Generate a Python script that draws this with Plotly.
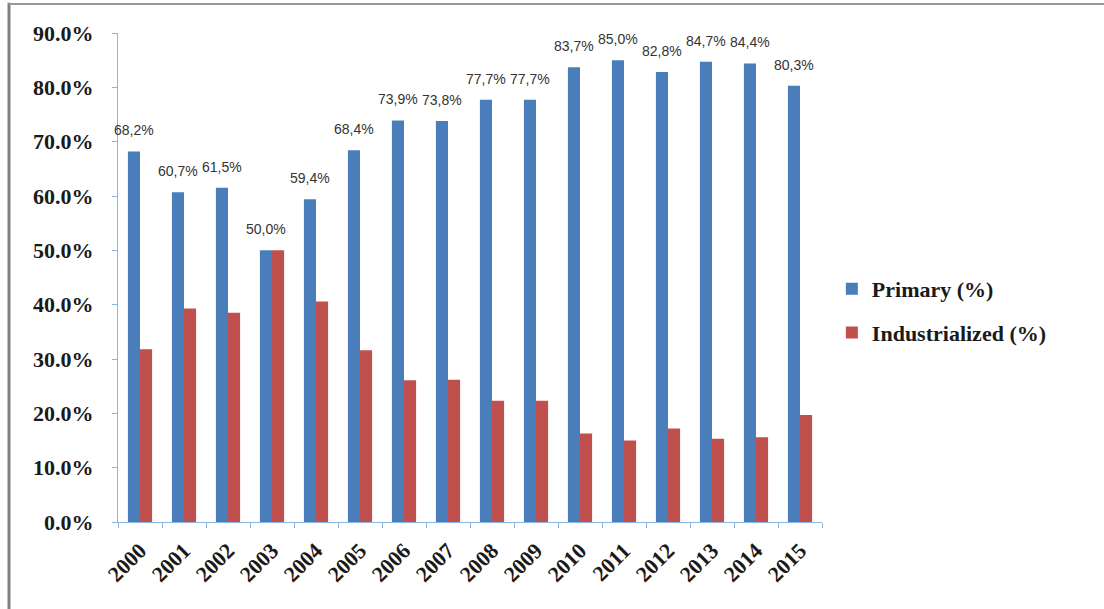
import plotly.graph_objects as go

years = [str(y) for y in range(2000, 2016)]
primary = [68.2, 60.7, 61.5, 50.0, 59.4, 68.4, 73.9, 73.8, 77.7, 77.7, 83.7, 85.0, 82.8, 84.7, 84.4, 80.3]
industrialized = [31.8, 39.3, 38.5, 50.0, 40.6, 31.6, 26.1, 26.2, 22.3, 22.3, 16.3, 15.0, 17.2, 15.3, 15.6, 19.7]
y_ticks = [0, 10, 20, 30, 40, 50, 60, 70, 80, 90]
y_tick_text = [f"{v:.1f}%" for v in y_ticks]
primary_labels = [f"{v:.1f}%".replace(".", ",") for v in primary]

serif_bold = dict(family="Liberation Serif", size=22, color="#1a1a1a", weight="bold")

fig = go.Figure()
fig.add_trace(go.Bar(
    x=years, y=primary, name="Primary (%)", legendgroup="p",
    marker=dict(color="#4a7ebb", line=dict(width=0)),
))
fig.add_trace(go.Bar(
    x=years, y=industrialized, name="Industrialized (%)", legendgroup="i",
    marker=dict(color="#c0504d", line=dict(width=0)),
))

# data labels above the primary bars (category index on the category axis)
for idx, (val, lab) in enumerate(zip(primary, primary_labels)):
    fig.add_annotation(
        x=idx, y=val, text=lab, showarrow=False,
        xanchor="center", yanchor="bottom", xshift=-6, yshift=11,
        font=dict(family="Liberation Sans", size=14, color="#333333"),
    )

fig.update_layout(
    width=1104, height=609,
    margin=dict(l=118, r=282, t=33, b=87),
    paper_bgcolor="white", plot_bgcolor="white",
    barmode="group", bargap=0.45, bargroupgap=0,
    showlegend=True,
    legend=dict(x=1.014, y=0.4315, xanchor="left", yanchor="middle",
                font=serif_bold, tracegroupgap=12, itemwidth=30),
)
fig.update_xaxes(
    type="category", range=[-0.5, len(years) - 0.5], tickangle=-45, tickfont=serif_bold,
    showline=True, linecolor="#8eb4e3", linewidth=1,
    ticks="outside", ticklen=5, tickcolor="#8eb4e3", tickson="boundaries",
    showgrid=False, ticklabelstandoff=6,
)
fig.update_yaxes(
    range=[0, 90], tickvals=y_ticks, ticktext=y_tick_text, tickfont=serif_bold,
    showline=True, linecolor="#8eb4e3", linewidth=1,
    ticks="outside", ticklen=5, tickcolor="#8eb4e3",
    showgrid=False, zeroline=False, ticklabelstandoff=14,
)
# outer frame edges (left and top) as in the reference image
fig.add_shape(type="line", xref="paper", yref="paper", x0=-0.1548, x1=-0.1548, y0=-0.2, y1=1.062,
              line=dict(color="#808080", width=3))
fig.add_shape(type="line", xref="paper", yref="paper", x0=-0.1548, x1=1.45, y0=1.0593, y1=1.0593,
              line=dict(color="#999999", width=2))

fig.write_html("out.html", config={"displayModeBar": False},
               post_script="document.body.style.margin='0px';")
